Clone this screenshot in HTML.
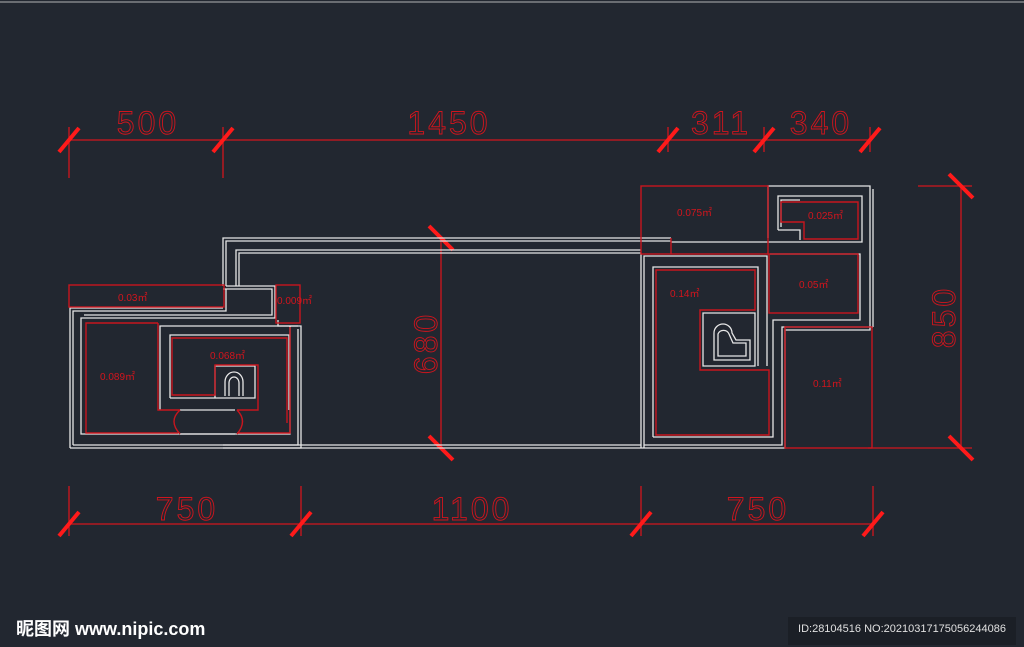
<!DOCTYPE html>
<html><head><meta charset="utf-8"><style>
html,body{margin:0;padding:0;background:#222730;}
svg{display:block}
</style></head><body>
<svg width="1024" height="647" viewBox="0 0 1024 647" xmlns="http://www.w3.org/2000/svg">
<rect width="1024" height="647" fill="#222730"/>
<line x1="0" y1="2" x2="1024" y2="2" stroke="#6a6d72" stroke-width="2"/>
<g stroke="#d2151d" stroke-width="1.3" fill="none">
 <line x1="69" y1="140" x2="870" y2="140"/>
 <line x1="69" y1="127" x2="69" y2="178"/><line x1="223" y1="127" x2="223" y2="178"/>
 <line x1="668" y1="127" x2="668" y2="152"/><line x1="764" y1="127" x2="764" y2="152"/><line x1="870" y1="127" x2="870" y2="152"/>
 <line x1="69" y1="524" x2="873" y2="524"/>
 <line x1="69" y1="486" x2="69" y2="536"/><line x1="301" y1="486" x2="301" y2="536"/>
 <line x1="641" y1="486" x2="641" y2="536"/><line x1="873" y1="486" x2="873" y2="536"/>
 <line x1="961" y1="186" x2="961" y2="448"/>
 <line x1="918" y1="186" x2="972" y2="186"/><line x1="868" y1="448" x2="972" y2="448"/>
 <line x1="441" y1="238" x2="441" y2="448"/>
</g>
<g stroke="#ff1a1a" stroke-width="4" stroke-linecap="butt">
 <line x1="59" y1="152" x2="79" y2="128"/><line x1="213" y1="152" x2="233" y2="128"/>
 <line x1="658" y1="152" x2="678" y2="128"/><line x1="754" y1="152" x2="774" y2="128"/><line x1="860" y1="152" x2="880" y2="128"/>
 <line x1="59" y1="536" x2="79" y2="512"/><line x1="291" y1="536" x2="311" y2="512"/>
 <line x1="631" y1="536" x2="651" y2="512"/><line x1="863" y1="536" x2="883" y2="512"/>
 <line x1="949" y1="174" x2="973" y2="198"/><line x1="949" y1="436" x2="973" y2="460"/>
 <line x1="429" y1="226" x2="453" y2="250"/><line x1="429" y1="436" x2="453" y2="460"/>
</g>
<g font-family="Liberation Sans, sans-serif" font-size="32" fill="none" stroke="#d2151d" stroke-width="0.9" text-anchor="middle" letter-spacing="3">
 <text x="148" y="134">500</text>
 <text x="449" y="134">1450</text>
 <text x="721" y="134">311</text>
 <text x="821" y="134">340</text>
 <text x="187" y="520">750</text>
 <text x="472" y="520">1100</text>
 <text x="758" y="520">750</text>
 <text transform="translate(955,317) rotate(-90)">850</text>
 <text transform="translate(437,343) rotate(-90)">680</text>
</g>
<g stroke="#e6e6e6" stroke-width="1.3" fill="none">
 <path d="M223,286 L223,238 L671,238"/><path d="M226,286 L226,241 L671,241"/>
 <path d="M236,286 L236,250 L641,250"/><path d="M239,286 L239,253 L641,253"/>
 <path d="M223,448 L641,448"/><path d="M223,445 L641,445"/>
 <path d="M226,286 L275,286 L275,318 L81,318 L81,434 L290,434 L290,326"/>
 <path d="M223,289 L272,289 L272,315 L84,315"/>
 <path d="M70,448 L70,308 L223,308"/><path d="M73,445 L73,311 L226,311 L226,289"/>
 <path d="M70,448 L301,448 L301,326 L278,326 L278,320"/>
 <path d="M73,445 L298,445 L298,329"/>
 <path d="M160,410 L160,326 L298,326"/>
 <path d="M170,398 L170,335 L289,335 L289,410"/>
 <path d="M170,398 L255,398 L255,366 L215,366 L215,398"/>
 <path d="M225,396 L225,382 A9,10 0 0 1 243,382 L243,396"/><path d="M229,396 L229,383 A5,6 0 0 1 239,383 L239,396"/>
 <path d="M180,410 L235,410"/><path d="M180,434 L235,434"/>
 <path d="M641,448 L641,253"/><path d="M644,448 L644,256 L767,256 L767,366"/>
 <path d="M653,437 L653,267 L758,267 L758,366"/>
 <path d="M641,448 L785,448 L785,330 L870,330 L870,186 L768,186 L768,238"/>
 <path d="M644,445 L782,445 L782,327 L873,327"/>
 <path d="M873,189 L873,327"/>
 <path d="M653,437 L773,437 L773,320 L860,320 L860,254 L770,254"/>
 <path d="M778,230 L778,196 L862,196 L862,242 L671,242"/>
 <path d="M781,227 L781,200 L800,200"/>
 <path d="M778,230 L800,230 L800,240"/>
 <path d="M703,313 L755,313 L755,366 L703,366 Z"/>
 <path d="M714,360 L714,333 A9,9 0 0 1 732,333 L736,340 L750,340 L750,360 Z"/>
 <path d="M718,356 L718,334 A6,6 0 0 1 729,334 L733,343 L746,343 L746,356 Z"/>
</g>
<g stroke="#c8161e" stroke-width="1.4" fill="none">
 <rect x="69" y="285" width="155" height="22"/>
 <rect x="276" y="285" width="24" height="38"/>
 <path d="M158,323 L86,323 L86,433 L178,433 M237,433 L290,433 L290,327"/>
 <path d="M158,323 L158,410 L180,410 M237,410 L258,410 L258,365 L215,365 L215,395 L172,395 L172,338 L287,338 L287,423"/>
 <path d="M180,410 Q168,421 180,434"/><path d="M237,410 Q248,421 237,434"/>
 <rect x="641" y="186" width="127" height="68"/>
 <line x1="671" y1="238" x2="671" y2="254"/>
 <path d="M781,202 L858,202 L858,239 L804,239 L804,222 L781,222 Z"/>
 <rect x="769" y="254" width="89" height="59"/>
 <path d="M656,270 L755,270 L755,310 L700,310 L700,370 L769,370 L769,435 L656,435 Z"/>
 <rect x="785" y="327" width="87" height="121"/>
</g>
<g font-family="Liberation Sans, sans-serif" font-size="10" fill="#d2151d">
 <text x="118" y="301">0.03㎡</text>
 <text x="277" y="304">0.009㎡</text>
 <text x="210" y="359">0.068㎡</text>
 <text x="100" y="380">0.089㎡</text>
 <text x="677" y="216">0.075㎡</text>
 <text x="808" y="219">0.025㎡</text>
 <text x="670" y="297">0.14㎡</text>
 <text x="799" y="288">0.05㎡</text>
 <text x="813" y="387">0.11㎡</text>
</g>
<text x="16" y="635" font-family="Liberation Sans, 'Noto Sans CJK SC', sans-serif" font-size="18" font-weight="bold" fill="#ffffff">昵图网 www.nipic.com</text>
<rect x="788" y="617" width="228" height="28" fill="#1b1f26"/>
<text x="902" y="632" text-anchor="middle" font-family="Liberation Sans, sans-serif" font-size="11" fill="#e0e0e0">ID:28104516 NO:20210317175056244086</text>
</svg>
</body></html>
